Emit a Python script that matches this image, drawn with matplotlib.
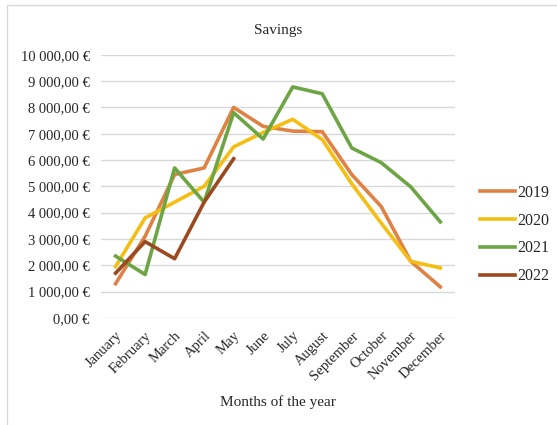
import matplotlib.pyplot as plt
from matplotlib.patches import Rectangle
from matplotlib.ticker import FuncFormatter

plt.rcParams['font.family'] = ['Liberation Serif', 'DejaVu Serif']

# Data
months = ['January', 'February', 'March', 'April', 'May', 'June', 'July',
          'August', 'September', 'October', 'November', 'December']
s2019 = [1300, 3100, 5450, 5700, 8000, 7280, 7100, 7080, 5450, 4230, 2150, 1180]
s2020 = [1950, 3800, 4400, 5000, 6500, 7050, 7550, 6780, 5100, 3600, 2150, 1900]
s2021 = [2350, 1650, 5700, 4400, 7800, 6800, 8780, 8520, 6460, 5900, 4980, 3650]
s2022 = [1700, 2900, 2250, 4400, 6050]

fig = plt.figure(figsize=(5.57, 4.25), dpi=100)
ax = fig.add_axes([0.181, 0.252, 0.636, 0.619])

# light frame round the chart area
fig.patches.append(Rectangle((7 / 557, -0.1), 1.1, 1 - 5 / 425 + 0.1,
                             transform=fig.transFigure, fill=False,
                             edgecolor='#d9d9d9', linewidth=1))

x = list(range(12))
ax.plot(x, s2019, color='#df8244', lw=2.6, label='2019')
ax.plot(x, s2020, color='#f4be14', lw=2.6, label='2020')
ax.plot(x, s2021, color='#6da544', lw=2.6, label='2021')
ax.plot(x[:len(s2022)], s2022, color='#9a4a1e', lw=2.6, label='2022')

ax.set_xlim(-0.5, 11.5)
ax.set_ylim(0, 10000)
ax.set_yticks(range(0, 10001, 1000))


def euro(v, pos):
    whole = int(round(v))
    s = f'{whole:,}'.replace(',', ' ')
    return f'{s},00 €'


ax.yaxis.set_major_formatter(FuncFormatter(euro))
ax.set_xticks(x)
ax.set_xticklabels(months, rotation=45, ha='right', rotation_mode='anchor')
ax.tick_params(length=0, labelsize=10.5, colors='#262626')
ax.tick_params(axis='y', pad=8)
ax.tick_params(axis='x', pad=8)
ax.grid(axis='y', color='#d9d9d9', lw=1)
ax.set_axisbelow(True)
for sp in ax.spines.values():
    sp.set_visible(False)

ax.set_title('Savings', fontsize=11, color='#262626', pad=15)
ax.set_xlabel('Months of the year', fontsize=11, color='#262626', labelpad=9)

ax.legend(loc='center left', bbox_to_anchor=(1.03, 0.317), frameon=False,
          fontsize=11.5, handlelength=2.2, handletextpad=0.15, labelspacing=0.75,
          labelcolor='#262626')

fig.savefig('out.png', dpi=100)
